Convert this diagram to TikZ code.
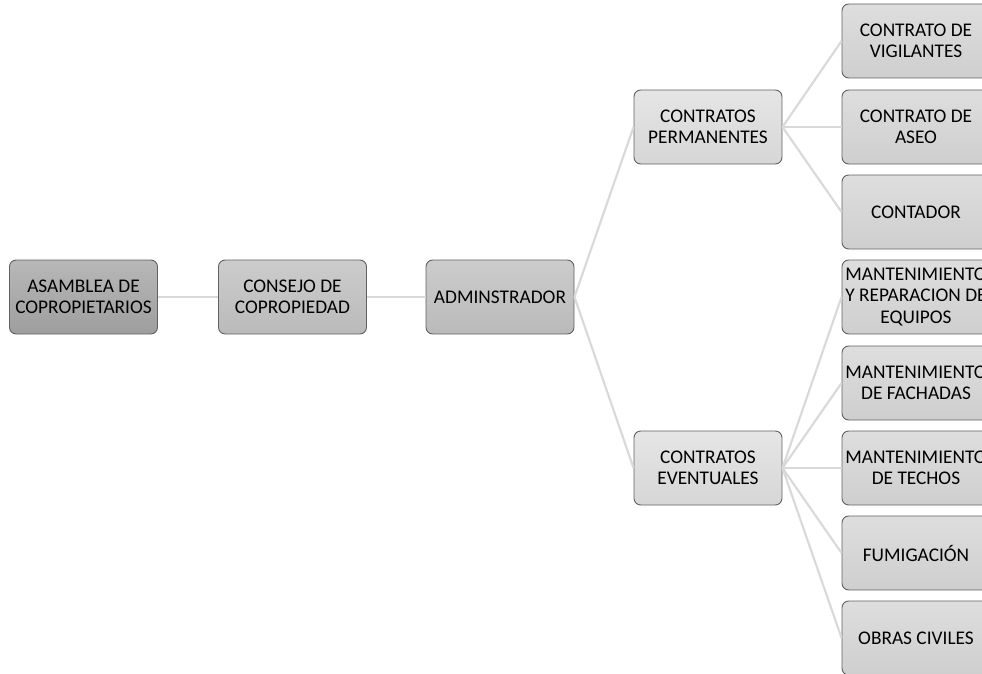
\documentclass[tikz,border=0pt]{standalone}
\usepackage{fontspec}
\setmainfont{Carlito}
\usepackage{tikz}
\usetikzlibrary{calc}

\begin{document}
\begin{tikzpicture}[x=0.75pt,y=-0.75pt,
  box/.style={draw=black!62,line width=0.7pt,rounded corners=5pt,
    minimum width=111pt,minimum height=55.5pt,align=center,inner sep=1pt,
    font=\fontsize{14.5}{16}\selectfont},
  lvlA/.style={box,top color=black!28,bottom color=black!38},
  lvlB/.style={box,top color=black!20,bottom color=black!27},
  lvlC/.style={box,top color=black!10,bottom color=black!16},
  lvlD/.style={box,top color=black!13,bottom color=black!19},
  link/.style={draw=black!15,line width=1.6pt}]
\useasboundingbox (0,0) rectangle (982,674);
% main line
\node[lvlA] (asamblea) at (83.5,297) {ASAMBLEA DE\\COPROPIETARIOS};
\node[lvlB] (consejo) at (292.5,297) {CONSEJO DE\\COPROPIEDAD};
\node[lvlB] (admin) at (500,297) {ADMINSTRADOR};
\node[lvlC] (perm) at (708,127) {CONTRATOS\\PERMANENTES};
\node[lvlC] (event) at (708,468) {CONTRATOS\\EVENTUALES};
% right column
\foreach \name/\y/\txt in {
  vigil/41/{CONTRATO DE\\VIGILANTES},
  aseo/127/{CONTRATO DE\\ASEO},
  contador/212/{CONTADOR},
  equipos/297/{MANTENIMIENTO\\Y REPARACION DE\\EQUIPOS},
  fachadas/383/{MANTENIMIENTO\\DE FACHADAS},
  techos/468/{MANTENIMIENTO\\DE TECHOS},
  fumig/553/{FUMIGACIÓN},
  obras/638/{OBRAS CIVILES}}
  \node[lvlD] (\name) at (916,\y) {\txt};
% connectors
\draw[link] (asamblea.east) -- (consejo.west);
\draw[link] (consejo.east) -- (admin.west);
\draw[link] (admin.east) -- (perm.west);
\draw[link] (admin.east) -- (event.west);
\foreach \c in {vigil,aseo,contador}
  \draw[link] (perm.east) -- (\c.west);
\foreach \c in {equipos,fachadas,techos,fumig,obras}
  \draw[link] (event.east) -- (\c.west);
\end{tikzpicture}
\end{document}
